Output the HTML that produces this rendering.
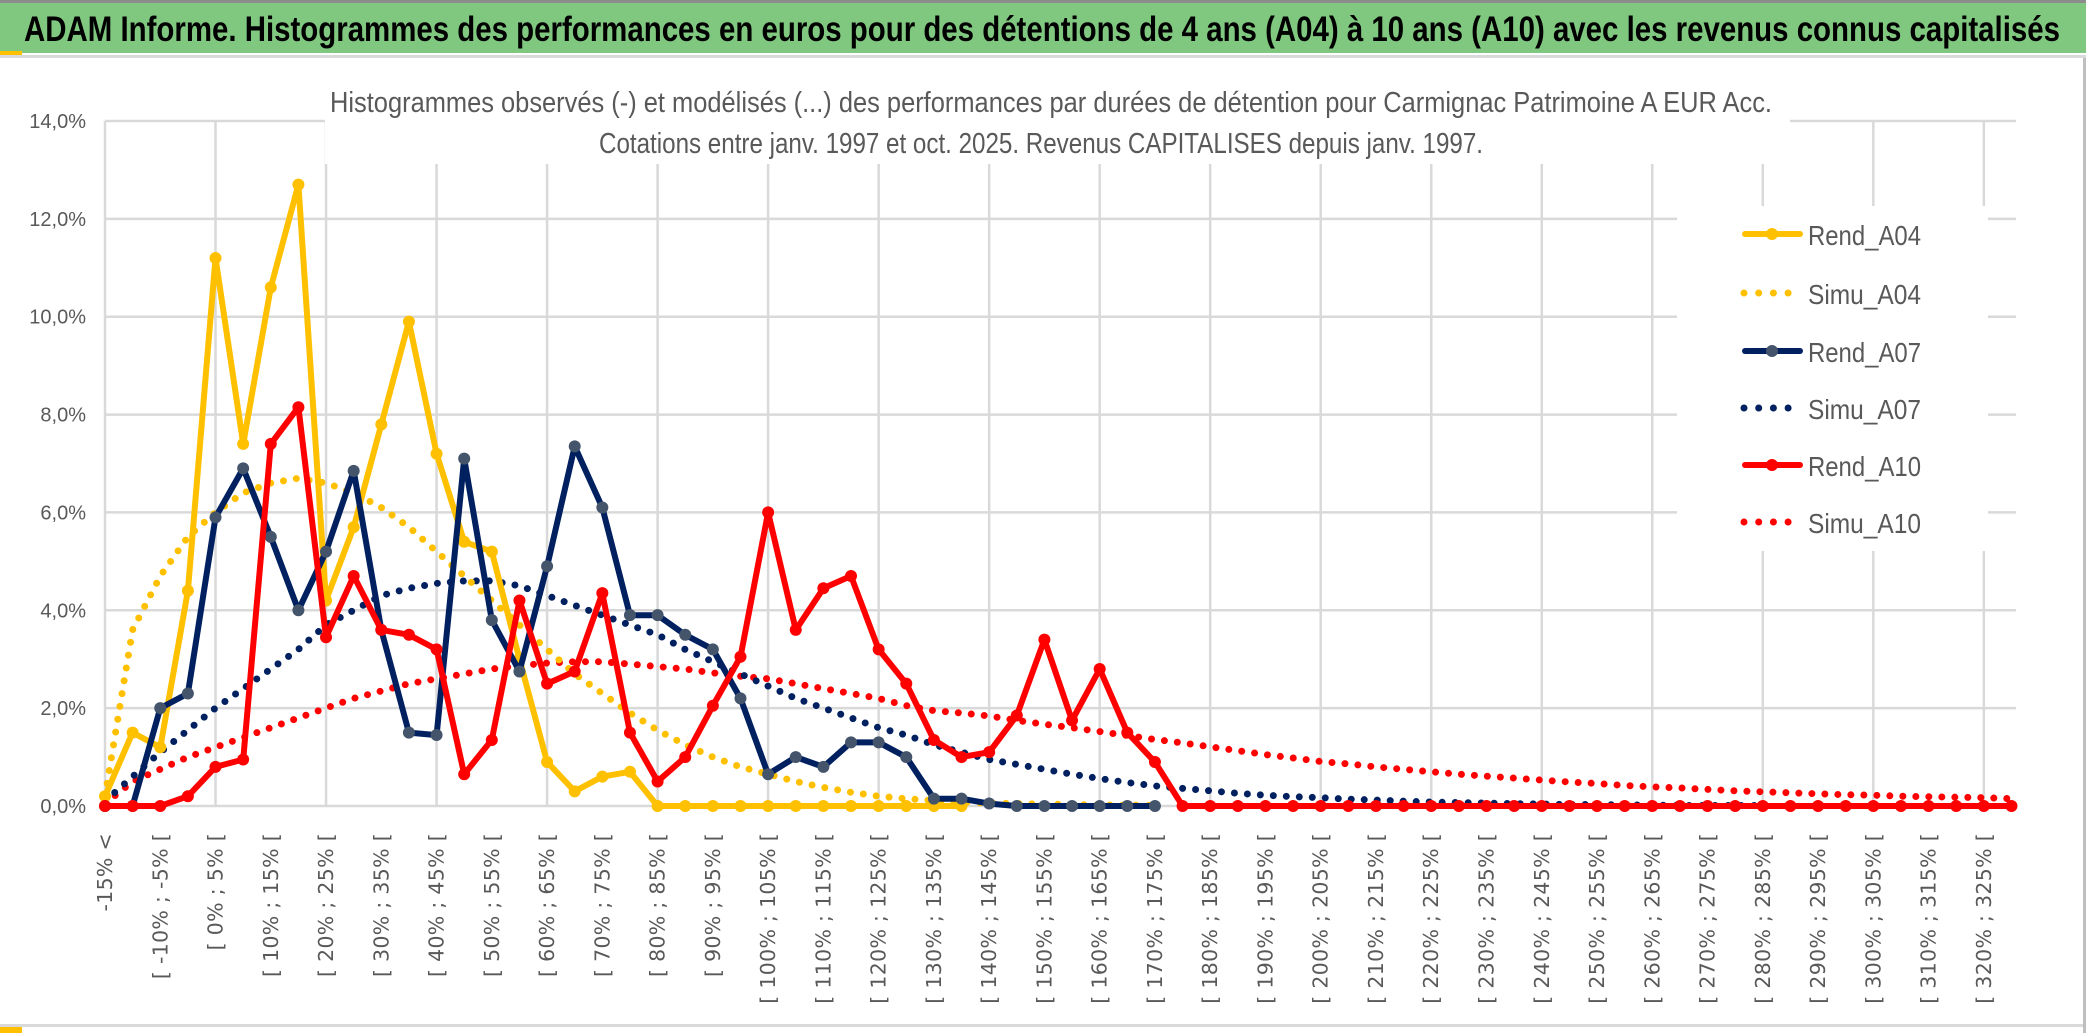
<!DOCTYPE html>
<html><head><meta charset="utf-8"><style>
html,body{margin:0;padding:0;background:#fff;}
svg{display:block;}
</style></head><body>
<svg id="chart" xmlns="http://www.w3.org/2000/svg" width="2086" height="1033" viewBox="0 0 2086 1033">
<rect x="0" y="0" width="2086" height="1033" fill="#ffffff"/>
<rect x="0" y="0" width="2086" height="3" fill="#8c8c8c"/>
<rect x="0" y="3" width="2086" height="50" fill="#80c880"/>
<rect x="0" y="51" width="22" height="4" fill="#ffc000"/>
<rect x="0" y="55" width="2086" height="3" fill="#d9d9d9"/>
<text x="24" y="41" font-family="Liberation Sans, sans-serif" font-weight="bold" font-size="35" fill="#000" textLength="2036" lengthAdjust="spacingAndGlyphs">ADAM Informe. Histogrammes des performances en euros pour des détentions de 4 ans (A04) à 10 ans (A10) avec les revenus connus capitalisés</text>
<rect x="0" y="1024" width="2086" height="3" fill="#d9d9d9"/>
<rect x="2083" y="58" width="3" height="975" fill="#bfbfbf"/>
<rect x="0" y="1027" width="22" height="6" fill="#ffc000"/>
<g id="grid"></g>
<rect x="325" y="80" width="1465" height="84" fill="#fff"/>
<text x="330" y="112" font-family="Liberation Sans, sans-serif" font-size="29" fill="#595959" textLength="1442" lengthAdjust="spacingAndGlyphs">Histogrammes observés (-) et modélisés (...) des performances par durées de détention pour Carmignac Patrimoine A EUR Acc.</text>
<text x="599" y="153" font-family="Liberation Sans, sans-serif" font-size="29" fill="#595959" textLength="884" lengthAdjust="spacingAndGlyphs">Cotations entre janv. 1997 et oct. 2025. Revenus CAPITALISES depuis janv. 1997.</text>
<g id="yaxis"></g>
<g id="xaxis"></g>
<g id="series"></g>
<rect x="1677" y="206" width="311" height="345" fill="#fff"/>
<g id="legend"></g>
</svg>
<script>
var categoryCount = 70;
var yTicks = [0, 2, 4, 6, 8, 10, 12, 14];
var yTickLabels = ["0,0%", "2,0%", "4,0%", "6,0%", "8,0%", "10,0%", "12,0%", "14,0%"];
var rendA04 = [0.2,1.5,1.2,4.4,11.2,7.4,10.6,12.7,4.2,5.7,7.8,9.9,7.2,5.4,5.2,3.0,0.9,0.3,0.6,0.7,0,0,0,0,0,0,0,0,0,0,0,0];
var simuA04 = [0.2,3.6,4.7,5.5,6.0,6.4,6.6,6.7,6.6,6.4,6.1,5.7,5.2,4.7,4.2,3.7,3.2,2.7,2.3,1.9,1.55,1.25,1.0,0.8,0.65,0.5,0.38,0.28,0.2,0.15,0.11,0.08,0.06,0.05,0.04,0.03,0.02,0.02,0.01];
var rendA07 = [0,0,2.0,2.3,5.9,6.9,5.5,4.0,5.2,6.85,3.6,1.5,1.45,7.1,3.8,2.75,4.9,7.35,6.1,3.9,3.9,3.5,3.2,2.2,0.65,1.0,0.8,1.3,1.3,1.0,0.15,0.15,0.05,0,0,0,0,0,0];
var simuA07 = [0.1,0.6,1.1,1.55,2.0,2.4,2.8,3.2,3.7,4.0,4.3,4.45,4.55,4.6,4.6,4.5,4.3,4.1,3.9,3.7,3.5,3.2,2.95,2.7,2.45,2.2,2.0,1.8,1.6,1.45,1.25,1.1,0.95,0.85,0.75,0.65,0.56,0.48,0.41,0.36,0.31,0.26,0.22,0.19,0.17,0.14,0.12,0.1,0.08,0.07,0.06,0.05,0.04,0.03,0.03,0.02,0.02,0.01,0.01,0.01,0.01];
var rendA10 = [0,0,0,0.2,0.8,0.95,7.4,8.15,3.45,4.7,3.6,3.5,3.2,0.65,1.35,4.2,2.5,2.75,4.35,1.5,0.5,1.0,2.05,3.05,6.0,3.6,4.45,4.7,3.2,2.5,1.35,1.0,1.1,1.85,3.4,1.75,2.8,1.5,0.9,0,0,0,0,0,0,0,0,0,0,0,0,0,0,0,0,0,0,0,0,0,0,0,0,0,0,0,0,0,0,0];
var simuA10 = [0.05,0.5,0.75,1.0,1.2,1.4,1.6,1.8,2.0,2.2,2.35,2.5,2.6,2.7,2.8,2.87,2.92,2.95,2.95,2.9,2.85,2.8,2.72,2.65,2.6,2.5,2.4,2.3,2.2,2.05,1.95,1.9,1.84,1.75,1.67,1.6,1.52,1.44,1.36,1.29,1.21,1.13,1.05,0.98,0.91,0.86,0.8,0.75,0.7,0.65,0.61,0.57,0.53,0.49,0.46,0.42,0.39,0.37,0.34,0.31,0.29,0.27,0.25,0.23,0.22,0.2,0.19,0.18,0.17,0.15];
var seriesNames = ["Rend_A04", "Simu_A04", "Rend_A07", "Simu_A07", "Rend_A10", "Simu_A10"];

var NS = "http://www.w3.org/2000/svg";
var X0 = 105, DX = 27.63, Y0 = 806, YTOP = 121, YMAX = 14;
function xs(i) { return X0 + i * DX; }
function ys(v) { return Y0 - v / YMAX * (Y0 - YTOP); }
function mk(tag, attrs, parent) {
  var e = document.createElementNS(NS, tag);
  for (var k in attrs) e.setAttribute(k, attrs[k]);
  parent.appendChild(e);
  return e;
}
function catLabel(i) {
  if (i === 0) return "-15% <";
  var lo = (i - 4) * 5;
  return "[ " + lo + "% ; " + (lo + 5) + "% [";
}

var grid = document.getElementById("grid");
for (var t = 0; t < yTicks.length; t++) {
  var gl = mk("line", {x1: X0, x2: 2016, y1: ys(yTicks[t]), y2: ys(yTicks[t]), stroke: "#d9d9d9", "stroke-width": 2.5}, grid);
  
  
}
for (var i = 0; i < categoryCount; i += 4) {
  var vl = mk("line", {x1: xs(i), x2: xs(i), y1: YTOP, y2: Y0, stroke: "#d9d9d9", "stroke-width": 2.5}, grid);
  
  
}

var yaxis = document.getElementById("yaxis");
for (var t = 0; t < yTicks.length; t++) {
  var yl = mk("text", {x: 86, y: ys(yTicks[t]) + 7, "text-anchor": "end", "font-family": "Liberation Sans, sans-serif", "font-size": 20, fill: "#595959"}, yaxis);
  yl.textContent = yTickLabels[t];
  
  
}

var xaxis = document.getElementById("xaxis");
for (var i = 0; i < categoryCount; i += 2) {
  var xl = mk("text", {x: 0, y: 0, "text-anchor": "end", "font-family": "DejaVu Sans, sans-serif", "font-size": 20.5, fill: "#595959", "letter-spacing": "0.3", transform: "translate(" + (xs(i) + 7) + ",833) rotate(-90)"}, xaxis);
  xl.textContent = catLabel(i);
  
  
}

var series = document.getElementById("series");
function pts(arr) {
  var s = [];
  for (var i = 0; i < arr.length; i++) s.push(xs(i).toFixed(1) + "," + ys(arr[i]).toFixed(1));
  return s.join(" ");
}
function dotted(arr, color, name) {
  var p = mk("polyline", {points: pts(arr), fill: "none", stroke: color, "stroke-width": 7, "stroke-linecap": "round", "stroke-dasharray": "0 13"}, series);
  
  
}
function solid(arr, color, mcolor, name) {
  var g = mk("g", {}, series);
  
  
  var p = mk("polyline", {points: pts(arr), fill: "none", stroke: color, "stroke-width": 6, "stroke-linejoin": "round", "stroke-linecap": "round"}, g);
  
  
  for (var i = 0; i < arr.length; i++) {
    var c = mk("circle", {cx: xs(i), cy: ys(arr[i]), r: 6, fill: mcolor}, g);
    
    
  }
}
dotted(simuA10, "#ff0000", "simu-a10-line");
dotted(simuA07, "#002060", "simu-a07-line");
dotted(simuA04, "#ffc000", "simu-a04-line");
solid(rendA04, "#ffc000", "#ffc000", "rend-a04");
solid(rendA07, "#002060", "#44546a", "rend-a07");
solid(rendA10, "#ff0000", "#ff0000", "rend-a10");

var legend = document.getElementById("legend");
var legendY = [234, 293, 351, 408, 465, 522];
var legendColors = ["#ffc000", "#ffc000", "#002060", "#002060", "#ff0000", "#ff0000"];
var legendMarker = ["#ffc000", null, "#44546a", null, "#ff0000", null];
for (var k = 0; k < seriesNames.length; k++) {
  var y = legendY[k];
  var item = mk("g", {}, legend);
  
  
  if (k % 2 === 0) {
    mk("line", {x1: 1745, x2: 1800, y1: y, y2: y, stroke: legendColors[k], "stroke-width": 6, "stroke-linecap": "round"}, item);
    mk("circle", {cx: 1772, cy: y, r: 6, fill: legendMarker[k]}, item);
  } else {
    mk("line", {x1: 1744, x2: 1794, y1: y, y2: y, stroke: legendColors[k], "stroke-width": 7, "stroke-linecap": "round", "stroke-dasharray": "0 14.7"}, item);
  }
  var lt = mk("text", {x: 1808, y: y + 11, "font-family": "Liberation Sans, sans-serif", "font-size": 28, fill: "#595959", textLength: 113, lengthAdjust: "spacingAndGlyphs"}, item);
  lt.textContent = seriesNames[k];
  
  
}
</script>
</body></html>
